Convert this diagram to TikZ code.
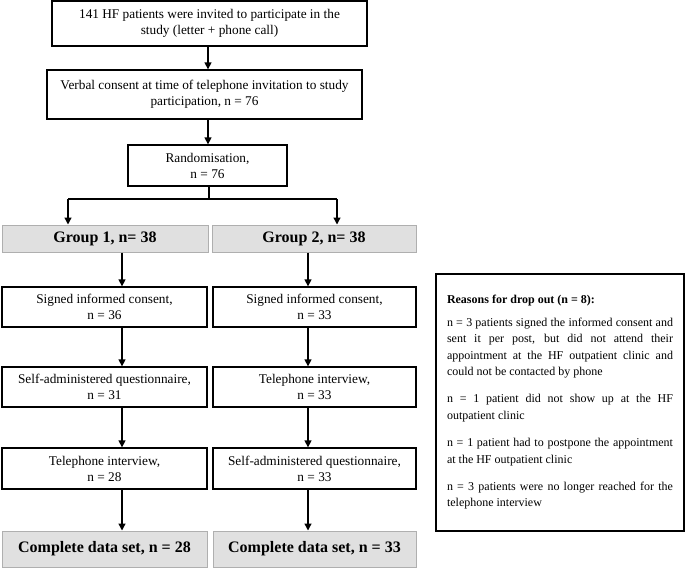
\documentclass[tikz,border=0pt]{standalone}
\usepackage{fontspec}
\setmainfont{Liberation Serif}
\usetikzlibrary{arrows.meta}
\definecolor{grpfill}{RGB}{224,224,224}
\definecolor{grpdraw}{RGB}{175,175,175}
\begin{document}
\begin{tikzpicture}[x=1pt,y=-1pt,
  box/.style={draw, line width=1.3pt, align=center, inner sep=0pt, font=\fontsize{13.3}{16}\selectfont},
  grp/.style={draw=grpdraw, fill=grpfill, line width=1pt, inner sep=0pt, font=\fontsize{16}{18}\selectfont\bfseries},
  arr/.style={line width=1.3pt, -{Triangle[length=7pt,width=7pt]}},
  ln/.style={line width=1.3pt}]
\useasboundingbox (0,0) rectangle (685,568);

\node[box, minimum width=315pt, minimum height=45pt] (b1) at (209.5,23.5) {141 HF patients were invited to participate in the\\ study (letter + phone call)};
\node[box, minimum width=315pt, minimum height=49pt] (b2) at (204.5,94.5) {Verbal consent at time of telephone invitation to study\\ participation, n = 76};
\node[box, minimum width=159pt, minimum height=41pt] (b3) at (207.5,165.5) {Randomisation,\\ n = 76};

\node[grp, minimum width=206pt, minimum height=27pt] (g1) at (105,238.5) {Group 1, n= 38};
\node[grp, minimum width=204pt, minimum height=27pt] (g2) at (314,238.5) {Group 2, n= 38};

\node[box, minimum width=205pt, minimum height=40pt] (s1) at (104.5,307) {Signed informed consent,\\ n = 36};
\node[box, minimum width=203pt, minimum height=40pt] (s2) at (314.5,307) {Signed informed consent,\\ n = 33};

\node[box, minimum width=205pt, minimum height=40pt] (q1) at (104.5,387) {Self-administered questionnaire,\\ n = 31};
\node[box, minimum width=203pt, minimum height=40pt] (t2) at (314.5,387) {Telephone interview,\\ n = 33};

\node[box, minimum width=205pt, minimum height=41pt] (t1) at (104.5,468.5) {Telephone interview,\\ n = 28};
\node[box, minimum width=203pt, minimum height=41pt] (q2) at (314.5,468.5) {Self-administered questionnaire,\\ n = 33};

\node[grp, minimum width=205pt, minimum height=36pt] (c1) at (104.5,549) {Complete data set, n = 28};
\node[grp, minimum width=203pt, minimum height=36pt] (c2) at (314.5,549) {Complete data set, n = 33};

\node[box, minimum width=248pt, minimum height=257pt] (r) at (560,402.5) {%
\begin{minipage}{226pt}\fontsize{12}{16.6}\selectfont
\setlength{\parindent}{0pt}\setlength{\parskip}{10.5pt}%
\hyphenpenalty=10000 \exhyphenpenalty=10000
{\bfseries Reasons for drop out (n = 8):}\par\vspace{-5pt}
n = 3 patients signed the informed consent and\linebreak{} sent it per post, but did not attend their\linebreak{} appointment at the HF outpatient clinic and\linebreak{} could not be contacted by phone\par
n = 1 patient did not show up at the HF\linebreak{} outpatient clinic\par
n = 1 patient had to postpone the appointment\linebreak{} at the HF outpatient clinic\par
n = 3 patients were no longer reached for the\linebreak{} telephone interview
\end{minipage}};

\coordinate (xl) at (122,0);
\coordinate (xr) at (308,0);
\coordinate (xt) at (208,0);
\coordinate (split) at (209,199);
\coordinate (bl) at (68,199);
\coordinate (br) at (337,199);

\draw[arr] (b1.south -| xt) -- (b2.north -| xt);
\draw[arr] (b2.south -| xt) -- (b3.north -| xt);
\draw[ln] (b3.south -| split) -- (split);
\draw[ln] (bl) -- (br);
\draw[arr] (bl) -- (g1.north -| bl);
\draw[arr] (br) -- (g2.north -| br);

\draw[arr] (g1.south -| xl) -- (s1.north -| xl);
\draw[arr] (g2.south -| xr) -- (s2.north -| xr);
\draw[arr] (s1.south -| xl) -- (q1.north -| xl);
\draw[arr] (s2.south -| xr) -- (t2.north -| xr);
\draw[arr] (q1.south -| xl) -- (t1.north -| xl);
\draw[arr] (t2.south -| xr) -- (q2.north -| xr);
\draw[arr] (t1.south -| xl) -- (c1.north -| xl);
\draw[arr] (q2.south -| xr) -- (c2.north -| xr);
\end{tikzpicture}
\end{document}
